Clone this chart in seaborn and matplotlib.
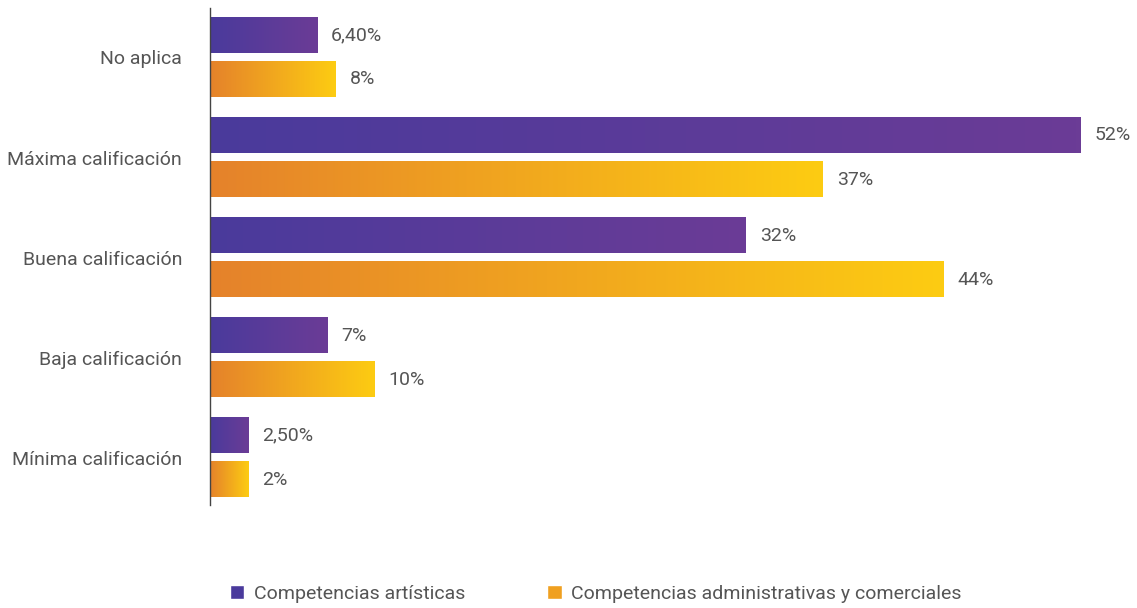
import matplotlib
matplotlib.use("Agg")
import matplotlib.pyplot as plt
import numpy as np
import pandas as pd
import seaborn as sns
from matplotlib.colors import LinearSegmentedColormap
from matplotlib.patches import Patch

# Data
categories = ["No aplica", "Máxima calificación", "Buena calificación",
              "Baja calificación", "Mínima calificación"]
series = ["Competencias artísticas", "Competencias administrativas y comerciales"]
artisticas = [6.4, 52, 32, 7, 2.3]
administrativas = [7.5, 36.6, 43.8, 9.8, 2.3]
labels_art = ["6,40%", "52%", "32%", "7%", "2,50%"]
labels_adm = ["8%", "37%", "44%", "10%", "2%"]

grad_colors = {
    series[0]: ("#4a3a9c", "#6b3c96"),
    series[1]: ("#e5822b", "#fdcc12"),
}
text_color = "#555555"

df = pd.DataFrame({
    "Categoria": categories * 2,
    "Serie": [series[0]] * 5 + [series[1]] * 5,
    "Valor": artisticas + administrativas,
})

sns.set_style("white")
plt.rcParams["font.family"] = ["Roboto", "DejaVu Sans"]

fig = plt.figure(figsize=(11.37, 6.08), dpi=100)
ax = fig.add_axes([0.1847, 0.169, 0.8, 0.818])

sns.barplot(data=df, y="Categoria", x="Valor", hue="Serie", order=categories,
            hue_order=series, orient="h", width=0.88, gap=0.2,
            palette=[grad_colors[s][1] for s in series], legend=False, ax=ax)

# replace solid fills with horizontal gradients
grad = np.linspace(0, 1, 256).reshape(1, -1)
for container, s, labs in zip(ax.containers, series, [labels_art, labels_adm]):
    cmap = LinearSegmentedColormap.from_list(s, grad_colors[s])
    for bar, lab in zip(container, labs):
        x0, y0 = bar.get_x(), bar.get_y()
        w, h = bar.get_width(), bar.get_height()
        bar.set_facecolor("none")
        bar.set_edgecolor("none")
        ax.imshow(grad, cmap=cmap, aspect="auto", extent=(x0, x0 + w, y0 + h, y0),
                  zorder=2, interpolation="bicubic")
        ax.annotate(lab, (x0 + w, y0 + h / 2), xytext=(10, 0),
                    textcoords="offset points", va="center", ha="left",
                    fontsize=14, color=text_color)

ax.set_xlim(0, 52 * 910 / 871)
ax.set_ylim(4.475, -0.495)

for side in ["top", "right", "bottom"]:
    ax.spines[side].set_visible(False)
ax.spines["left"].set_color("#444444")
ax.spines["left"].set_linewidth(1)
ax.set_xticks([])
ax.set_xlabel("")
ax.set_ylabel("")
ax.tick_params(axis="y", length=0, pad=20, labelsize=14, labelcolor=text_color)

handles = [Patch(facecolor=grad_colors[s][0] if i == 0 else "#f0a020", label=s)
           for i, s in enumerate(series)]
fig.legend(handles=handles, loc="center", bbox_to_anchor=(0.524, 0.023), ncol=2,
           frameon=False, fontsize=14, labelcolor=text_color, handlelength=0.75,
           handleheight=0.75, handletextpad=0.5, columnspacing=4.2)

fig.savefig("out.png", dpi=100)
